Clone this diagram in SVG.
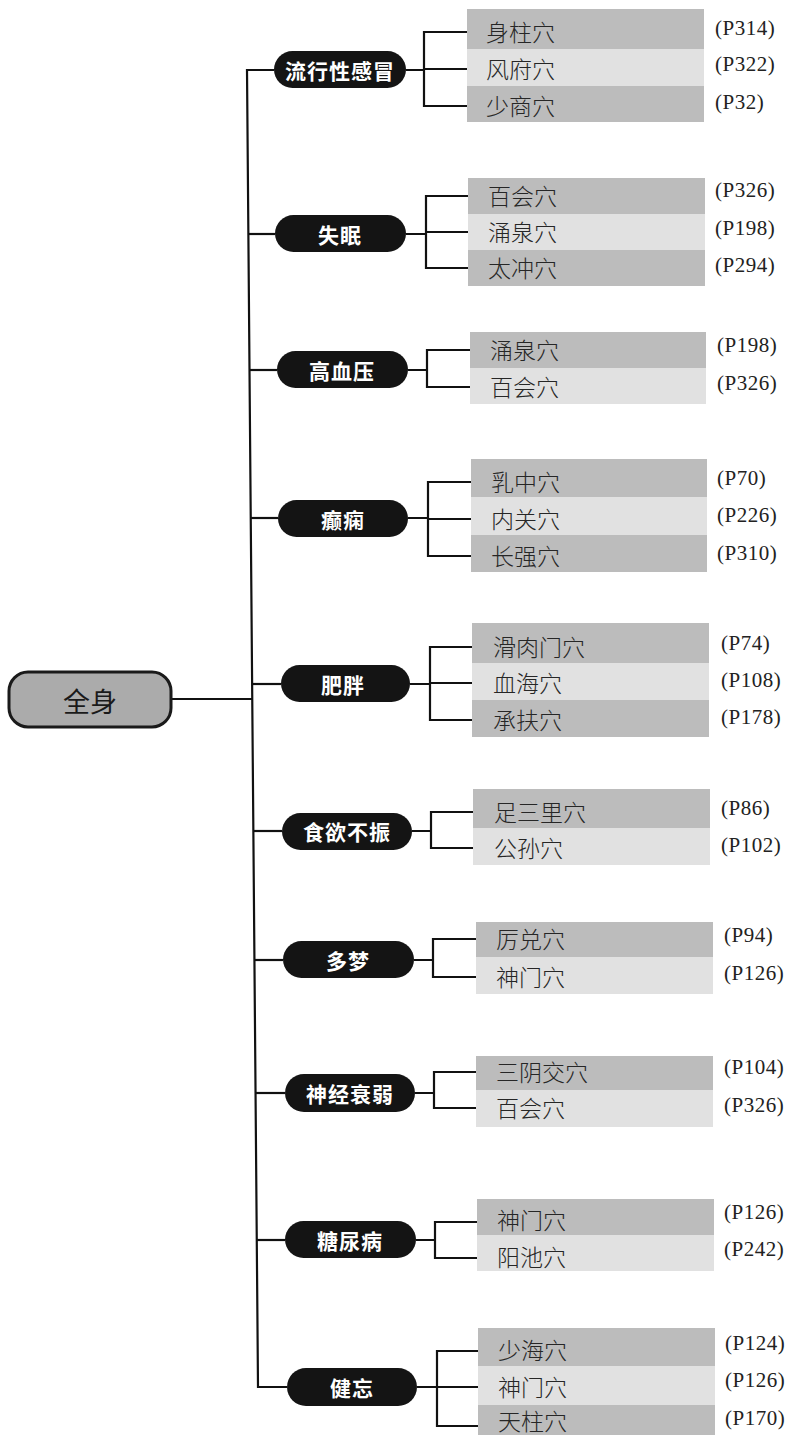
<svg xmlns="http://www.w3.org/2000/svg" width="795" height="1435" viewBox="0 0 795 1435">
<style>
.bg{fill:#ffffff}
.ln{fill:none;stroke:#111;stroke-width:2.2;stroke-linejoin:miter}
.cat{fill:#141414}
.cattxt{font-family:"Noto Sans CJK SC","Noto Sans",sans-serif;font-weight:700;font-size:21px;fill:#ffffff;text-anchor:middle;dominant-baseline:central;letter-spacing:1px}
.root{fill:#ababab;stroke:#1a1a1a;stroke-width:3}
.roottxt{font-family:"Noto Sans CJK SC","Noto Sans",sans-serif;font-weight:400;font-size:27px;fill:#1a1a1a;text-anchor:middle;dominant-baseline:central}
.dk{fill:#bcbcbc}
.lt{fill:#e1e1e1}
.leaf{font-family:"Noto Sans CJK SC","Noto Sans",sans-serif;font-weight:300;font-size:23px;fill:#262626;dominant-baseline:central}
.pg{font-family:"Liberation Serif","Times New Roman",serif;font-size:21px;fill:#222;dominant-baseline:central;letter-spacing:0.5px}
</style>
<rect class="bg" x="0" y="0" width="795" height="1435"/>

<g id="connectors">
  <path class="ln" d="M274,70 H247 L258,1387 H287"/>
  <path class="ln" d="M171,699 H252.3"/>
  <path class="ln" d="M248.4,234 H275"/>
  <path class="ln" d="M249.5,370 H277"/>
  <path class="ln" d="M250.7,518 H278"/>
  <path class="ln" d="M252.1,684 H281"/>
  <path class="ln" d="M253.4,831 H282"/>
  <path class="ln" d="M254.4,960 H283"/>
  <path class="ln" d="M255.5,1093 H285"/>
  <path class="ln" d="M256.8,1240 H285"/>
  <path class="ln" d="M406,70 H424 M467,32 H424 V106 H467 M424,69 H467"/>
  <path class="ln" d="M406,234 H426 M468,196 H426 V268 H468 M426,232 H468"/>
  <path class="ln" d="M408,370 H427 M470,350 H427 V387 H470"/>
  <path class="ln" d="M408,518 H428 M471,482 H428 V556 H471 M428,519 H471"/>
  <path class="ln" d="M410,684 H430 M472,647 H430 V720 H472 M430,683 H472"/>
  <path class="ln" d="M412,831 H431 M473,812 H431 V848 H473"/>
  <path class="ln" d="M414,960 H433 M476,939 H433 V977 H476"/>
  <path class="ln" d="M415,1093 H434 M476,1072 H434 V1108 H476"/>
  <path class="ln" d="M416,1240 H435 M477,1222 H435 V1258 H477"/>
  <path class="ln" d="M417,1387 H437 M478,1351 H437 V1426 H478 M437,1387 H478"/>
</g>

<g id="root">
  <rect class="root" x="9" y="672" width="162" height="55" rx="19"/>
  <text class="roottxt" x="90" y="700">全身</text>
</g>

<g id="cat-flu">
  <rect class="cat" x="274" y="51" width="132" height="37" rx="18.5"/>
  <text class="cattxt" x="340" y="70">流行性感冒</text>
</g>
<g id="cat-insomnia">
  <rect class="cat" x="275" y="215" width="131" height="37" rx="18.5"/>
  <text class="cattxt" x="340" y="234">失眠</text>
</g>
<g id="cat-hypertension">
  <rect class="cat" x="277" y="351" width="131" height="37" rx="18.5"/>
  <text class="cattxt" x="342" y="370">高血压</text>
</g>
<g id="cat-epilepsy">
  <rect class="cat" x="278" y="500" width="130" height="37" rx="18.5"/>
  <text class="cattxt" x="343" y="519">癫痫</text>
</g>
<g id="cat-obesity">
  <rect class="cat" x="281" y="665" width="129" height="37" rx="18.5"/>
  <text class="cattxt" x="343" y="684">肥胖</text>
</g>
<g id="cat-appetite">
  <rect class="cat" x="282" y="813" width="130" height="37" rx="18.5"/>
  <text class="cattxt" x="347" y="831">食欲不振</text>
</g>
<g id="cat-dreams">
  <rect class="cat" x="283" y="941" width="131" height="37" rx="18.5"/>
  <text class="cattxt" x="348" y="960">多梦</text>
</g>
<g id="cat-neurasthenia">
  <rect class="cat" x="285" y="1074" width="130" height="38" rx="19"/>
  <text class="cattxt" x="350" y="1093">神经衰弱</text>
</g>
<g id="cat-diabetes">
  <rect class="cat" x="285" y="1221" width="131" height="37" rx="18.5"/>
  <text class="cattxt" x="350" y="1240">糖尿病</text>
</g>
<g id="cat-forgetful">
  <rect class="cat" x="287" y="1368" width="130" height="38" rx="19"/>
  <text class="cattxt" x="352" y="1387">健忘</text>
</g>

<g id="leaves-flu">
  <rect class="dk" x="467" y="9" width="237" height="40"/>
  <rect class="lt" x="467" y="49" width="237" height="37"/>
  <rect class="dk" x="467" y="86" width="237" height="36"/>
  <text class="leaf" x="486" y="31">身柱穴</text>
  <text class="leaf" x="486" y="68">风府穴</text>
  <text class="leaf" x="486" y="105">少商穴</text>
  <text class="pg" x="715" y="28">(P314)</text>
  <text class="pg" x="715" y="64">(P322)</text>
  <text class="pg" x="715" y="102">(P32)</text>
</g>
<g id="leaves-insomnia">
  <rect class="dk" x="468" y="178" width="237" height="36"/>
  <rect class="lt" x="468" y="214" width="237" height="36"/>
  <rect class="dk" x="468" y="250" width="237" height="36"/>
  <text class="leaf" x="488" y="195">百会穴</text>
  <text class="leaf" x="488" y="231">涌泉穴</text>
  <text class="leaf" x="488" y="267">太冲穴</text>
  <text class="pg" x="715" y="190">(P326)</text>
  <text class="pg" x="715" y="228">(P198)</text>
  <text class="pg" x="715" y="265">(P294)</text>
</g>
<g id="leaves-hypertension">
  <rect class="dk" x="470" y="332" width="236" height="36"/>
  <rect class="lt" x="470" y="368" width="236" height="36"/>
  <text class="leaf" x="490" y="349">涌泉穴</text>
  <text class="leaf" x="490" y="386">百会穴</text>
  <text class="pg" x="717" y="345">(P198)</text>
  <text class="pg" x="717" y="383">(P326)</text>
</g>
<g id="leaves-epilepsy">
  <rect class="dk" x="471" y="459" width="236" height="38"/>
  <rect class="lt" x="471" y="497" width="236" height="38"/>
  <rect class="dk" x="471" y="535" width="236" height="37"/>
  <text class="leaf" x="491" y="481">乳中穴</text>
  <text class="leaf" x="491" y="518">内关穴</text>
  <text class="leaf" x="491" y="555">长强穴</text>
  <text class="pg" x="717" y="478">(P70)</text>
  <text class="pg" x="717" y="515">(P226)</text>
  <text class="pg" x="717" y="553">(P310)</text>
</g>
<g id="leaves-obesity">
  <rect class="dk" x="472" y="623" width="237" height="40"/>
  <rect class="lt" x="472" y="663" width="237" height="37"/>
  <rect class="dk" x="472" y="700" width="237" height="37"/>
  <text class="leaf" x="493" y="646">滑肉门穴</text>
  <text class="leaf" x="493" y="682">血海穴</text>
  <text class="leaf" x="493" y="719">承扶穴</text>
  <text class="pg" x="721" y="643">(P74)</text>
  <text class="pg" x="721" y="680">(P108)</text>
  <text class="pg" x="721" y="717">(P178)</text>
</g>
<g id="leaves-appetite">
  <rect class="dk" x="473" y="789" width="237" height="39"/>
  <rect class="lt" x="473" y="828" width="237" height="37"/>
  <text class="leaf" x="494" y="811">足三里穴</text>
  <text class="leaf" x="494" y="847">公孙穴</text>
  <text class="pg" x="721" y="808">(P86)</text>
  <text class="pg" x="721" y="845">(P102)</text>
</g>
<g id="leaves-dreams">
  <rect class="dk" x="476" y="922" width="237" height="35"/>
  <rect class="lt" x="476" y="957" width="237" height="37"/>
  <text class="leaf" x="496" y="938">厉兑穴</text>
  <text class="leaf" x="496" y="976">神门穴</text>
  <text class="pg" x="724" y="935">(P94)</text>
  <text class="pg" x="724" y="973">(P126)</text>
</g>
<g id="leaves-neurasthenia">
  <rect class="dk" x="476" y="1056" width="237" height="34"/>
  <rect class="lt" x="476" y="1090" width="237" height="37"/>
  <text class="leaf" x="496" y="1071">三阴交穴</text>
  <text class="leaf" x="496" y="1107">百会穴</text>
  <text class="pg" x="724" y="1067">(P104)</text>
  <text class="pg" x="724" y="1105">(P326)</text>
</g>
<g id="leaves-diabetes">
  <rect class="dk" x="477" y="1199" width="237" height="36"/>
  <rect class="lt" x="477" y="1235" width="237" height="36"/>
  <text class="leaf" x="497" y="1219">神门穴</text>
  <text class="leaf" x="497" y="1256">阳池穴</text>
  <text class="pg" x="724" y="1212">(P126)</text>
  <text class="pg" x="724" y="1249">(P242)</text>
</g>
<g id="leaves-forgetful">
  <rect class="dk" x="478" y="1328" width="237" height="38"/>
  <rect class="lt" x="478" y="1366" width="237" height="39"/>
  <rect class="dk" x="478" y="1405" width="237" height="30"/>
  <text class="leaf" x="498" y="1349">少海穴</text>
  <text class="leaf" x="498" y="1386">神门穴</text>
  <text class="leaf" x="498" y="1420">天柱穴</text>
  <text class="pg" x="725" y="1343">(P124)</text>
  <text class="pg" x="725" y="1380">(P126)</text>
  <text class="pg" x="725" y="1418">(P170)</text>
</g>
</svg>
